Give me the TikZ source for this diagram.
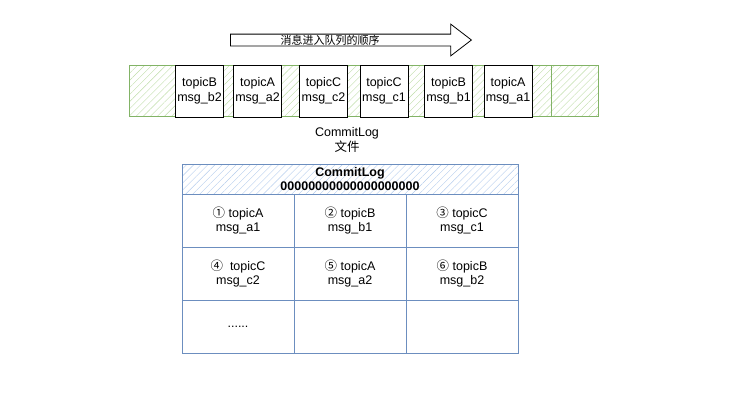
\documentclass[tikz,border=0pt]{standalone}
\usepackage{fontspec}
\setmainfont{Liberation Sans}
\newfontfamily\cjk{Noto Sans CJK SC}
\usetikzlibrary{positioning,shapes.arrows,patterns.meta}
\definecolor{filegreen}{HTML}{82B366}
\definecolor{hatchgreen}{HTML}{BEDDA8}
\definecolor{logblue}{HTML}{6C8EBF}
\definecolor{hatchblue}{HTML}{B4CCEC}
\tikzset{
  msgbox/.style={draw=black, line width=1pt, fill=white, minimum width=48pt,
    minimum height=52pt, inner sep=0pt, outer sep=0pt, align=center},
  cell/.style={draw=logblue, line width=0.8pt, minimum width=112pt,
    minimum height=53pt, inner sep=0pt, outer sep=0pt, align=center},
}
\begin{document}
\begin{tikzpicture}[x=1pt, y=-1pt, font=\fontsize{12.5}{14.5}\selectfont]
\useasboundingbox (0,0) rectangle (739,408);
% order arrow
\node[single arrow, draw=black, line width=0.8pt, minimum height=241pt,
  minimum width=31pt, inner xsep=0pt, inner ysep=5.5pt,
  single arrow head extend=10pt, single arrow tip angle=75, anchor=west]
  (order) at (230,40) {};
\node[font=\cjk\fontsize{11}{13}\selectfont] (orderlabel) at (330,40) {消息进入队列的顺序};
% commitlog file
\fill[pattern={Lines[angle=45,distance=5pt,line width=0.4pt]}, pattern color=hatchgreen]
  (129,65) rectangle (598,116);
\draw[filegreen, line width=0.8pt] (129,65) rectangle (598,116);
\draw[filegreen, line width=0.8pt] (551,65) -- (551,116);
\node[msgbox] (b2) at (199.5,91) {topicB\\msg\_b2};
\node[msgbox] (a2) at (257.5,91) {topicA\\msg\_a2};
\node[msgbox] (c2) at (323.5,91) {topicC\\msg\_c2};
\node[msgbox] (c1) at (384,91) {topicC\\msg\_c1};
\node[msgbox] (b1) at (448.5,91) {topicB\\msg\_b1};
\node[msgbox] (a1) at (508,91) {topicA\\msg\_a1};
\node[align=center] (file) at (347,140) {CommitLog\\{\cjk 文件}};
% commitlog table
\node[cell, minimum width=336pt, minimum height=30pt,
  pattern={Lines[angle=45,distance=5pt,line width=0.4pt]}, pattern color=hatchblue]
  (head) at (350,179) {};
\node[font=\bfseries\fontsize{12.5}{14.5}\selectfont, align=center] (headtext) at (head)
  {CommitLog\\00000000000000000000};
\node[cell] (c11) [below right=0pt of head.south west] {{\cjk ①} topicA\\msg\_a1};
\node[cell] (c12) [right=0pt of c11] {{\cjk ②} topicB\\msg\_b1};
\node[cell] (c13) [right=0pt of c12] {{\cjk ③} topicC\\msg\_c1};
\node[cell] (c21) [below=0pt of c11] {{\cjk ④}\ \ topicC\\msg\_c2};
\node[cell] (c22) [right=0pt of c21] {{\cjk ⑤} topicA\\msg\_a2};
\node[cell] (c23) [right=0pt of c22] {{\cjk ⑥} topicB\\msg\_b2};
\node[cell] (c31) [below=0pt of c21] {......};
\node[cell] (c32) [right=0pt of c31] {};
\node[cell] (c33) [right=0pt of c32] {};
\end{tikzpicture}
\end{document}
